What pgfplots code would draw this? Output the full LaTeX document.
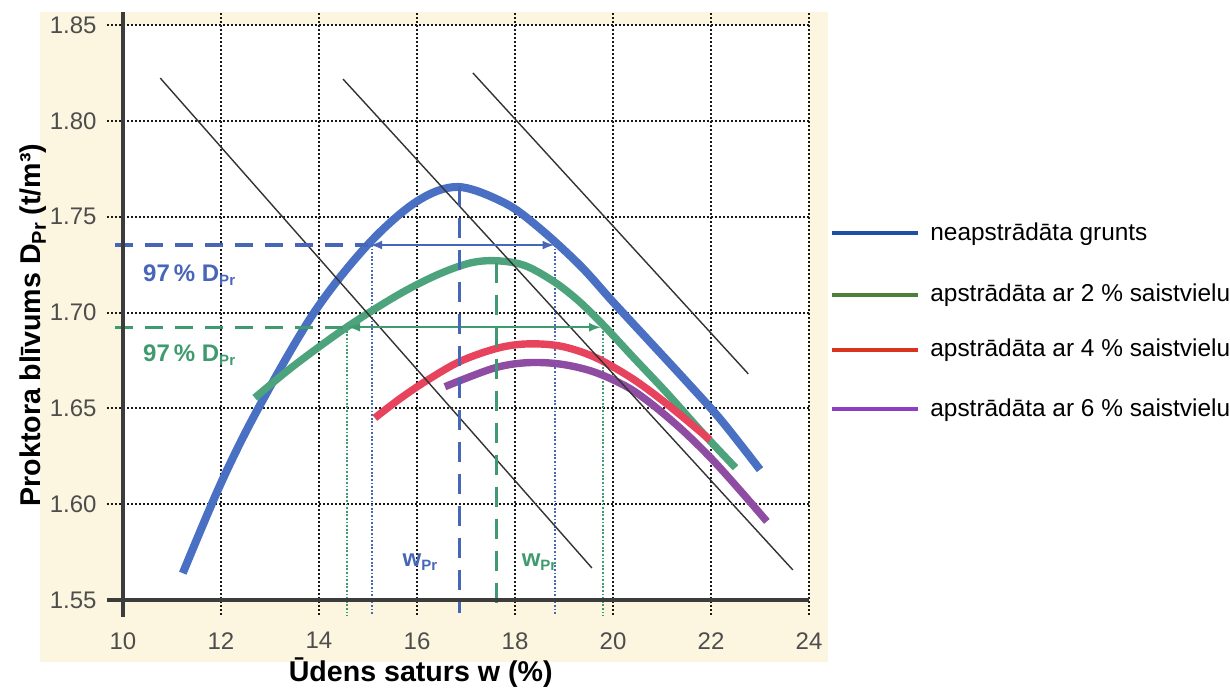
\documentclass[border=0pt]{standalone}
\usepackage{fontspec}
\setmainfont{Liberation Sans}
\usepackage{pgfplots}
\pgfplotsset{compat=1.18}
\definecolor{cream}{HTML}{FCF5DF}
\definecolor{cblue}{HTML}{4A70C4}
\definecolor{cgreen}{HTML}{4DA37C}
\definecolor{cred}{HTML}{E8435C}
\definecolor{cpurple}{HTML}{8E4CA3}
\definecolor{lblue}{HTML}{1F4FA5}
\definecolor{lgreen}{HTML}{4C7F3A}
\definecolor{lred}{HTML}{D9321F}
\definecolor{lpurple}{HTML}{8A3FC4}
\definecolor{axgray}{HTML}{3C3C3C}
\definecolor{tickgray}{HTML}{4D4D4D}
\definecolor{tblue}{HTML}{4766B8}
\definecolor{tgreen}{HTML}{3F9A70}
\tikzset{gridline/.style={black!90, line width=1pt, dash pattern=on 1pt off 1pt}}
\newcommand{\subx}[2][7.5]{\raisebox{-0.35ex}{\fontsize{#1}{8}\selectfont #2}}
\begin{document}
\begin{tikzpicture}
\useasboundingbox (-61.5pt,-45.5pt) rectangle (553.5pt,300pt);
\fill[cream] (-41.5pt,-31pt) rectangle (352.5pt,294pt);
\fill[white] (0,0) rectangle (343pt,287.5pt);
\begin{axis}[
  at={(0,0)}, anchor=south west, scale only axis,
  width=343pt, height=287.5pt,
  xmin=10, xmax=24, ymin=1.55, ymax=1.85,
  axis line style={draw=none},
  tick style={draw=none},
  major tick length=0pt,
  xtick={10,12,14,16,18,20,22,24},
  ytick={1.55,1.6,1.65,1.7,1.75,1.8,1.85},
  yticklabel style={/pgf/number format/fixed, /pgf/number format/fixed zerofill, /pgf/number format/precision=2, anchor=east, inner sep=0pt, xshift=-13pt},
  xticklabel style={anchor=north, inner sep=0pt, yshift=-16pt},
  ticklabel style={font=\fontsize{12}{14}\selectfont, text=tickgray},
  /pgf/number format/assume math mode=true,
  clip=false,
  xlabel={Ūdens saturs w (\%)},
  ylabel={Proktora blīvums D\subx[10]{Pr} (t/m³)},
  label style={font=\bfseries\fontsize{14.3}{16}\selectfont, text=black},
  xlabel style={at={(axis description cs:0.434,-0.127)}, anchor=center},
  ylabel style={at={(axis description cs:-0.131,0.478)}, anchor=center},
]
% grid
\pgfplotsinvokeforeach{12,14,16,18,20,22,24}{\draw[gridline] (axis cs:#1,1.5422) -- (axis cs:#1,1.8563);}
\pgfplotsinvokeforeach{1.6,1.65,1.7,1.75,1.8,1.85}{\draw[gridline] (axis cs:9.673,#1) -- (axis cs:24,#1);}
% colored dotted verticals
\draw[tblue, line width=0.9pt, dash pattern=on 0.9pt off 0.9pt] (axis cs:15.08,1.7352) -- (axis cs:15.08,1.542);
\draw[tblue, line width=0.9pt, dash pattern=on 0.9pt off 0.9pt] (axis cs:18.82,1.7352) -- (axis cs:18.82,1.542);
\draw[tgreen, line width=0.9pt, dash pattern=on 0.9pt off 0.9pt] (axis cs:14.57,1.6923) -- (axis cs:14.57,1.542);
\draw[tgreen, line width=0.9pt, dash pattern=on 0.9pt off 0.9pt] (axis cs:19.80,1.6923) -- (axis cs:19.80,1.542);
% curves
\addplot[cblue, line width=4pt, smooth, tension=0.55] coordinates {
(11.22,1.564) (12.0,1.611) (12.76,1.650) (13.9,1.700) (15.0,1.7355) (16.0,1.758)
(16.84,1.7655) (17.8,1.757) (18.5,1.744) (19.33,1.7245) (20.0,1.7055) (20.76,1.6845)
(21.5,1.664) (22.2,1.644) (23.0,1.618)};
\addplot[cgreen, line width=3.7pt, smooth, tension=0.55] coordinates {
(12.69,1.6555) (13.5,1.6725) (14.57,1.6924) (15.6,1.709) (16.4,1.7195) (17.08,1.7258)
(17.62,1.727) (18.2,1.7245) (18.8,1.716) (19.3,1.706) (19.8,1.6935) (20.4,1.677)
(21.1,1.658) (21.8,1.638) (22.5,1.619)};
\addplot[cpurple, line width=3.7pt, smooth, tension=0.55] coordinates {
(16.57,1.6613) (17.56,1.6709) (18.24,1.6738) (18.92,1.6731) (19.6,1.6691) (20.28,1.6613)
(20.8,1.652) (21.4,1.639) (22.0,1.624) (22.6,1.607) (23.14,1.591)};
\addplot[cred, line width=3.7pt, smooth, tension=0.55] coordinates {
(15.14,1.645) (15.65,1.655) (16.2,1.6645) (16.88,1.6745) (17.63,1.6813) (18.24,1.6836)
(18.92,1.6825) (19.6,1.677) (20.28,1.6674) (20.82,1.6578) (21.4,1.646) (21.98,1.6335)};
% thin black lines
\addplot[black!80, line width=0.7pt] coordinates {(10.76,1.8223) (19.57,1.5667)};
\addplot[black!80, line width=0.7pt] coordinates {(14.49,1.8218) (23.67,1.5657)};
\addplot[black!80, line width=0.7pt] coordinates {(17.14,1.825) (22.76,1.668)};
% dashed reference lines
\draw[tblue, line width=1.7pt, dash pattern=on 9pt off 6pt] (axis cs:9.84,1.7352) -- (axis cs:15.0,1.7352);
\draw[tblue, line width=1pt, <->, >=latex] (axis cs:15.05,1.7352) -- (axis cs:18.80,1.7352);
\draw[tgreen, line width=1.7pt, dash pattern=on 9pt off 6pt] (axis cs:9.84,1.6923) -- (axis cs:14.55,1.6923);
\draw[tgreen, line width=1pt, <->, >=latex] (axis cs:14.6,1.6923) -- (axis cs:19.75,1.6923);
\draw[tblue, line width=1.6pt, dash pattern=on 10pt off 6pt] (axis cs:16.86,1.766) -- (axis cs:16.86,1.543);
\draw[tgreen, line width=1.6pt, dash pattern=on 10pt off 6pt] (axis cs:17.62,1.726) -- (axis cs:17.62,1.546);
% annotations
\node[text=tblue, font=\bfseries\fontsize{12}{14}\selectfont] at (axis cs:11.35,1.7196) {97\,\% D\subx{Pr}};
\node[text=tgreen, font=\bfseries\fontsize{12}{14}\selectfont] at (axis cs:11.35,1.6778) {97\,\% D\subx{Pr}};
\node[text=tblue, font=\bfseries\fontsize{12}{14}\selectfont] at (axis cs:16.06,1.5698) {w\subx{Pr}};
\node[text=tgreen, font=\bfseries\fontsize{12}{14}\selectfont] at (axis cs:18.49,1.5698) {w\subx{Pr}};
% axis lines
\draw[axgray, line width=2pt] (axis cs:10,1.5411) -- (axis cs:10,1.8568);
\draw[axgray, line width=2pt] (axis cs:9.673,1.55) -- (axis cs:24,1.55);
\end{axis}
% legend
\draw[lblue, line width=2pt] (354.5pt,183.4pt) -- (397.5pt,183.4pt);
\draw[lgreen, line width=2pt] (354.5pt,152.5pt) -- (397.5pt,152.5pt);
\draw[lred, line width=2pt] (354.5pt,125pt) -- (397.5pt,125pt);
\draw[lpurple, line width=2pt] (354.5pt,95.4pt) -- (397.5pt,95.4pt);
\begin{scope}[every node/.style={anchor=base west, inner sep=0pt, font=\fontsize{12.2}{14}\selectfont}]
\node at (403.5pt,179.9pt) {neapstrādāta grunts};
\node at (403.5pt,149pt) {apstrādāta ar 2 \% saistvielu};
\node at (403.5pt,121.5pt) {apstrādāta ar 4 \% saistvielu};
\node at (403.5pt,91.9pt) {apstrādāta ar 6 \% saistvielu};
\end{scope}
\end{tikzpicture}
\end{document}
